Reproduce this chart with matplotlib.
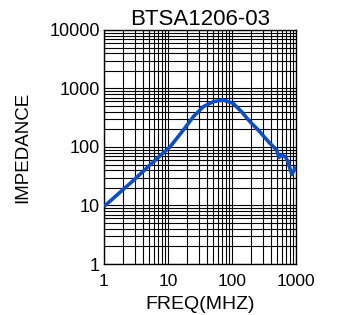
import matplotlib
matplotlib.use('Agg')
import matplotlib.pyplot as plt
from matplotlib.ticker import LogLocator, FixedLocator, NullFormatter

plt.rcParams['font.family'] = ['Liberation Sans', 'DejaVu Sans']

# impedance curve
freq = [1, 2.9, 5.2, 10.8, 17.4, 24.9, 35.7, 51, 73, 104, 141, 191, 257,
        390, 500, 540, 600, 680, 740, 860, 1000]
imp = [9.6, 27, 49, 101, 195, 330, 489, 595, 635, 558, 401, 271, 195,
       116, 89, 66, 73, 68, 58, 34, 46]

x_ticks = [1, 10, 100, 1000]
y_ticks = [1, 10, 100, 1000, 10000]

fig = plt.figure(figsize=(3.37, 3.15), dpi=100)
ax = fig.add_axes([0.3086, 0.1619, 0.5697, 0.7429])

ax.plot(freq, imp, color='#0a4fc8', lw=2.6, solid_capstyle='butt', zorder=3)

ax.set_xscale('log')
ax.set_yscale('log')
ax.set_xlim(1, 1000)
ax.set_ylim(1, 10000)

ax.xaxis.set_major_locator(FixedLocator(x_ticks))
ax.yaxis.set_major_locator(FixedLocator(y_ticks))
ax.set_xticklabels([str(v) for v in x_ticks])
ax.set_yticklabels([str(v) for v in y_ticks])
ax.xaxis.set_minor_locator(LogLocator(base=10, subs=range(2, 10)))
ax.yaxis.set_minor_locator(LogLocator(base=10, subs=range(2, 10)))
ax.xaxis.set_minor_formatter(NullFormatter())
ax.yaxis.set_minor_formatter(NullFormatter())

ax.grid(True, which='both', color='black', lw=0.8)
ax.tick_params(which='both', length=0)
ax.tick_params(axis='x', labelsize=12.5, pad=7)
ax.tick_params(axis='y', labelsize=13, pad=3)
for s in ax.spines.values():
    s.set_linewidth(1)

ax.set_title('BTSA1206-03', fontsize=16, pad=3)
ax.set_xlabel('FREQ(MHZ)', fontsize=14)
ax.xaxis.set_label_coords(0.5, -0.135)
ax.set_ylabel('IMPEDANCE', fontsize=13.5)
ax.yaxis.set_label_coords(-0.38, 0.5)

fig.savefig('out.png', dpi=100)
